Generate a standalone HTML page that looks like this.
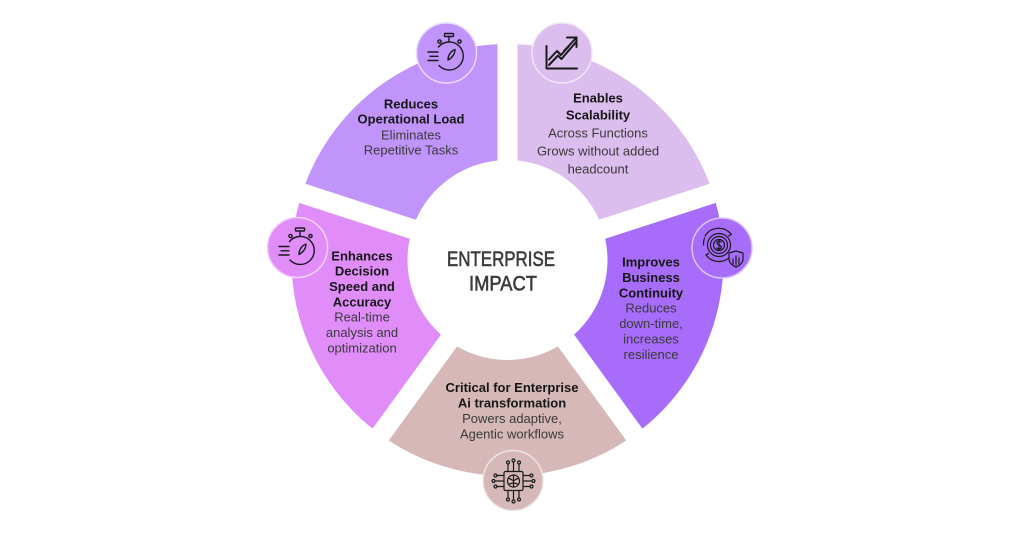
<!DOCTYPE html>
<html>
<head>
<meta charset="utf-8">
<style>
html,body{margin:0;padding:0;background:#fff;}
body{width:1024px;height:538px;overflow:hidden;}
svg{display:block;}
text{font-family:"Liberation Sans",Arial,sans-serif;}
.b{font-weight:700;font-size:13px;fill:#161616;}
.r{font-weight:400;font-size:13px;fill:#3a3a3a;}
.ic{fill:none;stroke:#1a1a1a;stroke-width:1.4;stroke-linecap:round;stroke-linejoin:round;}
</style>
</head>
<body>
<svg width="1024" height="538" viewBox="0 0 1024 538" xmlns="http://www.w3.org/2000/svg">
  <rect width="1024" height="538" fill="#fff"/>

  <!-- segments -->
  <path d="M517.5,44.23 A216,216 0 0 1 709.62,183.81 L599.04,219.74 A100,100 0 0 0 517.5,160.5 Z" fill="#dbbdee"/>
  <path d="M715.80,202.83 A216,216 0 0 1 642.42,428.68 L574.08,334.62 A100,100 0 0 0 605.22,238.76 Z" fill="#a86cfa"/>
  <path d="M626.24,440.44 A216,216 0 0 1 388.76,440.44 L457.10,346.38 A100,100 0 0 0 557.90,346.38 Z" fill="#d6b8b8"/>
  <path d="M372.58,428.68 A216,216 0 0 1 299.20,202.83 L409.78,238.76 A100,100 0 0 0 440.92,334.62 Z" fill="#e08dfa"/>
  <path d="M305.38,183.81 A216,216 0 0 1 497.5,44.23 L497.5,160.5 A100,100 0 0 0 415.96,219.74 Z" fill="#c094fa"/>

  <!-- icon circles -->
  <circle cx="446.5" cy="53" r="30" fill="#c094fa" stroke="#ead9ff" stroke-width="1.5"/>
  <circle cx="562" cy="53" r="30" fill="#dbbdee" stroke="#f1e4f8" stroke-width="1.5"/>
  <circle cx="722" cy="248" r="30" fill="#a86cfa" stroke="#dcc4ff" stroke-width="1.5"/>
  <circle cx="297.5" cy="247.5" r="30" fill="#e08dfa" stroke="#f3d0fc" stroke-width="1.5"/>
  <circle cx="513" cy="480.5" r="30" fill="#d6b8b8" stroke="#efe2e2" stroke-width="1.5"/>

  <!-- stopwatch icon (top-left) -->
  <g class="ic">
    <rect x="444.5" y="33.5" width="9" height="3" rx="0.5"/>
    <line x1="449" y1="36.5" x2="449" y2="41"/>
    <circle cx="439.5" cy="41.5" r="1.6"/>
    <circle cx="459.5" cy="41.5" r="1.6"/>
    <path d="M438.5,47 A14,14 0 1 1 439,65.5"/>
    <line x1="428" y1="52" x2="438" y2="52"/>
    <line x1="430" y1="56.3" x2="438" y2="56.3"/>
    <line x1="428" y1="60.5" x2="438" y2="60.5"/>
    <path d="M448,60 C448,55 451,51 455,49.5 C455,54 452,58 448,60 Z"/>
  </g>
  <!-- stopwatch icon (left) -->
  <g class="ic" transform="translate(-149,194.5)">
    <rect x="444.5" y="33.5" width="9" height="3" rx="0.5"/>
    <line x1="449" y1="36.5" x2="449" y2="41"/>
    <circle cx="439.5" cy="41.5" r="1.6"/>
    <circle cx="459.5" cy="41.5" r="1.6"/>
    <path d="M438.5,47 A14,14 0 1 1 439,65.5"/>
    <line x1="428" y1="52" x2="438" y2="52"/>
    <line x1="430" y1="56.3" x2="438" y2="56.3"/>
    <line x1="428" y1="60.5" x2="438" y2="60.5"/>
    <path d="M448,60 C448,55 451,51 455,49.5 C455,54 452,58 448,60 Z"/>
  </g>

  <!-- growth chart icon -->
  <g class="ic" style="stroke-width:2">
    <path d="M546.5,46 L546.5,68.5 L577,68.5"/>
    <path d="M549,65 L558,55.5 L561.5,59 L576,42"/>
    <path d="M549,59.5 L557,51 L561,55 L569,46"/>
    <path d="M567,37.5 L576.5,37.5 L576.5,47"/>
    <line x1="576.5" y1="37.5" x2="564" y2="51"/>
  </g>

  <!-- dollar continuity icon -->
  <g class="ic" style="stroke-width:1.2">
    <circle cx="719" cy="245" r="5.5"/>
    <circle cx="719" cy="245" r="8.5"/>
    <circle cx="719" cy="245" r="11.5"/>
    <path d="M705,236 A16,16 0 0 1 731,234"/>
    <path d="M729,232 L731.5,234.5 L728.5,236"/>
    <path d="M731,256 A16,16 0 0 1 706,255"/>
    <path d="M703.5,245 A15.5,15.5 0 0 1 704.5,238"/>
    <path d="M706,255 L708.5,253.5"/>
    <path d="M721,242 C719,240.5 716.5,241.5 717,243.5 C717.5,245 721,245 721.3,247 C721.5,249 718.5,249.5 716.8,248"/>
    <line x1="719" y1="239.5" x2="719" y2="250.5"/>
    <path d="M729,253 L736,251 L743,253 L743,259 C743,263 739,266 736,267 C733,266 729,263 729,259 Z" fill="#a86cfa"/>
    <line x1="733" y1="264" x2="733" y2="259"/>
    <line x1="736" y1="265" x2="736" y2="256"/>
    <line x1="739" y1="264" x2="739" y2="258"/>
  </g>

  <!-- chip brain icon -->
  <g class="ic" style="stroke-width:1.2">
    <rect x="504" y="471.5" width="19" height="19" rx="1.5"/>
    <circle cx="513.5" cy="481" r="6"/>
    <path d="M513.5,475 L513.5,487 M509,478.5 C511,479 512,480 513.5,481 M518,478.5 C516,479 515,480 513.5,481 M509.5,484 C511,483.5 512,483 513.5,483 M517.5,484 C516,483.5 515,483 513.5,483"/>
    <line x1="508" y1="471.5" x2="508" y2="464"/><circle cx="508" cy="462.5" r="1.5"/>
    <line x1="513.5" y1="471.5" x2="513.5" y2="462"/><circle cx="513.5" cy="460.5" r="1.5"/>
    <line x1="519" y1="471.5" x2="519" y2="464"/><circle cx="519" cy="462.5" r="1.5"/>
    <line x1="508" y1="490.5" x2="508" y2="498"/><circle cx="508" cy="499.5" r="1.5"/>
    <line x1="513.5" y1="490.5" x2="513.5" y2="500"/><circle cx="513.5" cy="501.5" r="1.5"/>
    <line x1="519" y1="490.5" x2="519" y2="498"/><circle cx="519" cy="499.5" r="1.5"/>
    <line x1="504" y1="475.5" x2="497" y2="475.5"/><circle cx="495.5" cy="475.5" r="1.5"/>
    <line x1="504" y1="481" x2="495" y2="481"/><circle cx="493.5" cy="481" r="1.5"/>
    <line x1="504" y1="486.5" x2="497" y2="486.5"/><circle cx="495.5" cy="486.5" r="1.5"/>
    <line x1="523" y1="475.5" x2="530" y2="475.5"/><circle cx="531.5" cy="475.5" r="1.5"/>
    <line x1="523" y1="481" x2="532" y2="481"/><circle cx="533.5" cy="481" r="1.5"/>
    <line x1="523" y1="486.5" x2="530" y2="486.5"/><circle cx="531.5" cy="486.5" r="1.5"/>
  </g>

  <!-- center text -->
  <text x="501" y="266" text-anchor="middle" font-size="21" fill="#3b3b3b" stroke="#3b3b3b" stroke-width="0.6" textLength="108" lengthAdjust="spacingAndGlyphs">ENTERPRISE</text>
  <text x="503" y="290.5" text-anchor="middle" font-size="21" fill="#3b3b3b" stroke="#3b3b3b" stroke-width="0.6" textLength="68" lengthAdjust="spacingAndGlyphs">IMPACT</text>

  <!-- top-left text -->
  <g text-anchor="middle">
    <text class="b" x="411" y="108.5">Reduces</text>
    <text class="b" x="411" y="123.5">Operational Load</text>
    <text class="r" x="411" y="139.5">Eliminates</text>
    <text class="r" x="411" y="154.5">Repetitive Tasks</text>
  </g>
  <!-- top-right text -->
  <g text-anchor="middle">
    <text class="b" x="598" y="102.5">Enables</text>
    <text class="b" x="598" y="119.5">Scalability</text>
    <text class="r" x="598" y="137.5">Across Functions</text>
    <text class="r" x="598" y="155.5">Grows without added</text>
    <text class="r" x="598" y="173.5">headcount</text>
  </g>
  <!-- left text -->
  <g text-anchor="middle">
    <text class="b" x="362" y="260.5">Enhances</text>
    <text class="b" x="362" y="275.5">Decision</text>
    <text class="b" x="362" y="291">Speed and</text>
    <text class="b" x="362" y="306.5">Accuracy</text>
    <text class="r" x="362" y="321.5">Real-time</text>
    <text class="r" x="362" y="337">analysis and</text>
    <text class="r" x="362" y="352.5">optimization</text>
  </g>
  <!-- right text -->
  <g text-anchor="middle">
    <text class="b" x="651" y="266.5">Improves</text>
    <text class="b" x="651" y="282">Business</text>
    <text class="b" x="651" y="297.5">Continuity</text>
    <text class="r" x="651" y="312.5">Reduces</text>
    <text class="r" x="651" y="328">down-time,</text>
    <text class="r" x="651" y="343.5">increases</text>
    <text class="r" x="651" y="359">resilience</text>
  </g>
  <!-- bottom text -->
  <g text-anchor="middle">
    <text class="b" x="512" y="392">Critical for Enterprise</text>
    <text class="b" x="512" y="407.5">Ai transformation</text>
    <text class="r" x="512" y="423">Powers adaptive,</text>
    <text class="r" x="512" y="438.5">Agentic workflows</text>
  </g>
</svg>
</body>
</html>
